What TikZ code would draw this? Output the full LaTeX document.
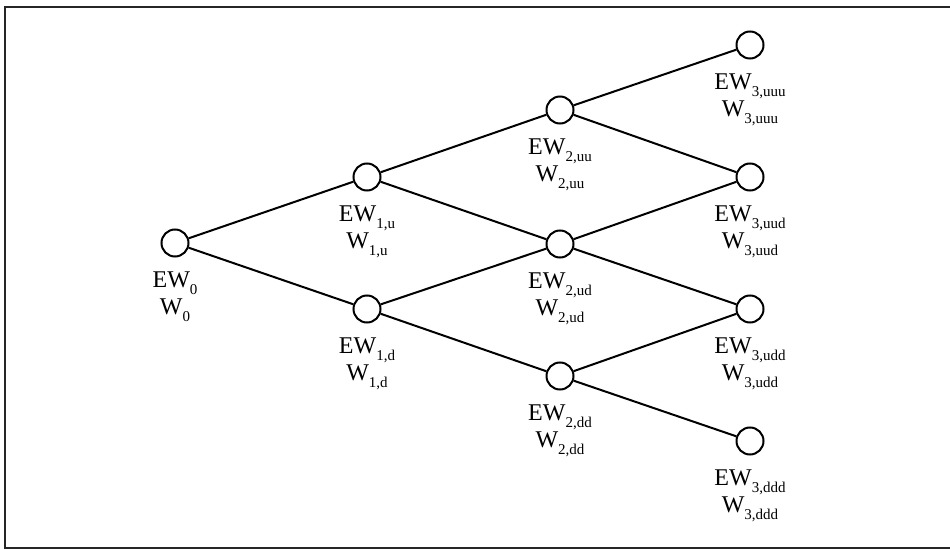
\documentclass[tikz,border=0pt]{standalone}
\usepackage{fontspec}
\setmainfont{Liberation Serif}
% lowered, smaller index set after a symbol
\newcommand\idx[1]{\raisebox{-6.5bp}{\fontsize{15bp}{15bp}\selectfont #1}}
\begin{document}
\begin{tikzpicture}[x=1bp,y=-1bp,
  state/.style={circle, draw, line width=2bp, minimum size=27bp, inner sep=0pt},
  branch/.style={line width=2bp},
  tag/.style={font=\fontsize{24bp}{27bp}\selectfont, align=center, inner sep=0pt, anchor=north},
  frame/.style={line width=2.2bp, draw=black!85}]
\useasboundingbox (0,0) rectangle (950,550);
% outer frame: it runs on past the right edge of the page
\begin{scope}
\clip (0,0) rectangle (950,550);
\draw[frame] (970,7) -- (5,7) -- (5,548) -- (970,548);
\end{scope}

% states of the tree
\node[state] (n0)    at (175,243) {};
\node[state] (n1u)   at (367,177) {};
\node[state] (n1d)   at (367,309) {};
\node[state] (n2uu)  at (560,110) {};
\node[state] (n2ud)  at (560,244) {};
\node[state] (n2dd)  at (560,376) {};
\node[state] (n3uuu) at (750,45)  {};
\node[state] (n3uud) at (750,177) {};
\node[state] (n3udd) at (750,309) {};
\node[state] (n3ddd) at (750,441) {};

% labels under each state
\node[tag] (t0)    at ([yshift=-29bp]n0.center)    {EW\idx{0}\\W\idx{0}};
\node[tag] (t1u)   at ([yshift=-29bp]n1u.center)   {EW\idx{1,u}\\W\idx{1,u}};
\node[tag] (t1d)   at ([yshift=-29bp]n1d.center)   {EW\idx{1,d}\\W\idx{1,d}};
\node[tag] (t2uu)  at ([yshift=-29bp]n2uu.center)  {EW\idx{2,uu}\\W\idx{2,uu}};
\node[tag] (t2ud)  at ([yshift=-29bp]n2ud.center)  {EW\idx{2,ud}\\W\idx{2,ud}};
\node[tag] (t2dd)  at ([yshift=-29bp]n2dd.center)  {EW\idx{2,dd}\\W\idx{2,dd}};
\node[tag] (t3uuu) at ([yshift=-29bp]n3uuu.center) {EW\idx{3,uuu}\\W\idx{3,uuu}};
\node[tag] (t3uud) at ([yshift=-29bp]n3uud.center) {EW\idx{3,uud}\\W\idx{3,uud}};
\node[tag] (t3udd) at ([yshift=-29bp]n3udd.center) {EW\idx{3,udd}\\W\idx{3,udd}};
\node[tag] (t3ddd) at ([yshift=-29bp]n3ddd.center) {EW\idx{3,ddd}\\W\idx{3,ddd}};

% branches
\draw[branch] (n0) -- (n1u);
\draw[branch] (n0) -- (n1d);
\draw[branch] (n1u) -- (n2uu);
\draw[branch] (n1u) -- (n2ud);
\draw[branch] (n1d) -- (n2ud);
\draw[branch] (n1d) -- (n2dd);
\draw[branch] (n2uu) -- (n3uuu);
\draw[branch] (n2uu) -- (n3uud);
\draw[branch] (n2ud) -- (n3uud);
\draw[branch] (n2ud) -- (n3udd);
\draw[branch] (n2dd) -- (n3udd);
\draw[branch] (n2dd) -- (n3ddd);
\end{tikzpicture}
\end{document}
